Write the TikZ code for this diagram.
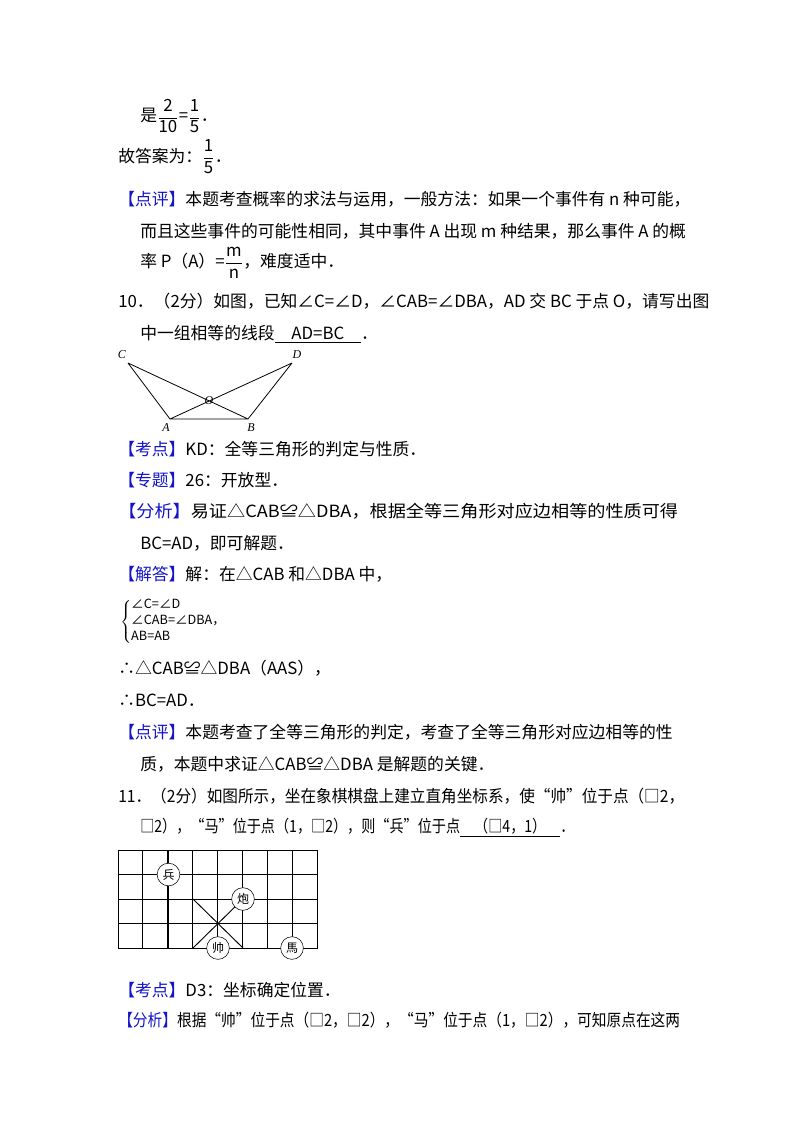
\documentclass[tikz,border=0pt]{standalone}
\usepackage{amsmath}
\usepackage{fontspec}
\usepackage{graphicx}
\setmainfont{Noto Sans CJK SC}
\newfontfamily\ser{Liberation Serif}
\definecolor{kb}{RGB}{20,20,200}
\newcommand{\kt}[1]{\textcolor{kb}{【#1】}}
\newcommand{\fr}[2]{\ensuremath{\dfrac{\mathrm{#1}}{\mathrm{#2}}}}
\begin{document}
\begin{tikzpicture}[x=0.75pt,y=-0.75pt,
  tl/.style={anchor=west,inner sep=0pt,font=\fontsize{12.6}{14}\selectfont},
  pc/.style={circle,draw,fill=white,inner sep=0.5pt,minimum size=17pt,font=\fontsize{9}{9}\selectfont},
  gl/.style={font=\ser\itshape\fontsize{9}{9}\selectfont,inner sep=1pt}]
\fill[white] (0,0) rectangle (800,1132);
\useasboundingbox (0,0) rectangle (800,1132);
\node[tl] (l1) at (140,116) {是\fr{2}{10}=\fr{1}{5}．};
\node[tl] (l2) at (118,157) {故答案为：\fr{1}{5}．};
\node[tl] (l3) at (118,199) {\kt{点评}本题考查概率的求法与运用，一般方法：如果一个事件有 n 种可能，};
\node[tl] (l4) at (140,231) {而且这些事件的可能性相同，其中事件 A 出现 m 种结果，那么事件 A 的概};
\node[tl] (l5) at (140,263) {率 P（A）=\fr{m}{n}，难度适中．};
\node[tl] (l6) at (118,301) {10．（2分）如图，已知∠C=∠D，∠CAB=∠DBA，AD 交 BC 于点 O，请写出图};
\node[tl] (l7) at (140,334) {中一组相等的线段\underline{\quad AD=BC\quad}．};
% geometry
\coordinate (C) at (128,363); \coordinate (D) at (292,363);
\coordinate (A) at (170,419); \coordinate (B) at (248,419);
\draw[line width=0.6pt] (C)--(A)--(B)--(D) (C)--(B) (A)--(D);
\node[gl] (nc) at (122,355) {C}; \node[gl] (nd) at (297,355) {D};
\node[gl] (na) at (166,428) {A}; \node[gl] (nb) at (251,428) {B};
\node[gl] (no) at (209,401) {O};
\node[tl] (l8) at (118,449) {\kt{考点}KD：全等三角形的判定与性质．};
\node[tl] (l9) at (118,480) {\kt{专题}26：开放型．};
\node[tl] (l10) at (118,511) {\scalebox{1.08}[1]{\kt{分析}易证△CAB≌△DBA，根据全等三角形对应边相等的性质可得}};
\node[tl] (l11) at (140,543) {BC=AD，即可解题．};
\node[tl] (l12) at (118,574) {\kt{解答}解：在△CAB 和△DBA 中，};
\node[anchor=west,inner sep=0pt,font=\fontsize{9.5}{10}\selectfont] (br) at (120,622)
  {$\left\{\vcenter{\hbox{\begin{tabular}{@{}l@{}}∠C=∠D\\[2pt]∠CAB=∠DBA，\\[2pt]AB=AB\end{tabular}}}\right.$};
\node[tl] (l13) at (118,668) {∴△CAB≌△DBA（AAS），};
\node[tl] (l14) at (118,700) {∴BC=AD．};
\node[tl] (l15) at (118,732) {\kt{点评}本题考查了全等三角形的判定，考查了全等三角形对应边相等的性};
\node[tl] (l16) at (140,764) {质，本题中求证△CAB≌△DBA 是解题的关键．};
\node[tl] (l17) at (118,796) {\scalebox{0.93}[1]{11．（2分）如图所示，坐在象棋棋盘上建立直角坐标系，使“帅”位于点（□2，}};
\node[tl] (l18) at (140,828) {\scalebox{0.84}[1]{□2），“马”位于点（1，□2），则“兵”位于点\underline{\quad（□4，1）\quad}．}};
% board
\foreach \i in {0,...,8} \draw[line width=0.7pt] (118+\i*24.9,850)--(118+\i*24.9,948);
\foreach \j in {0,...,4} \draw[line width=0.7pt] (118,850+\j*24.5)--(317,850+\j*24.5);
\draw[line width=1.1pt] (168,850)--(168,948);
\draw[line width=0.7pt] (118,850) rectangle (317,948);
\draw[line width=0.7pt] (193,899)--(243,948) (243,899)--(193,948);
\node[pc] (bing) at (168.5,874.5) {兵};
\node[pc] (pao) at (243,899) {炮};
\node[pc] (shuai) at (218,948) {帅};
\node[pc] (ma) at (292,948) {馬};
\node[tl] (l19) at (118,990) {\kt{考点}D3：坐标确定位置．};
\node[tl] (l20) at (118,1020) {\scalebox{0.875}[1]{\kt{分析}根据“帅”位于点（□2，□2），“马”位于点（1，□2），可知原点在这两}};
\end{tikzpicture}
\end{document}
